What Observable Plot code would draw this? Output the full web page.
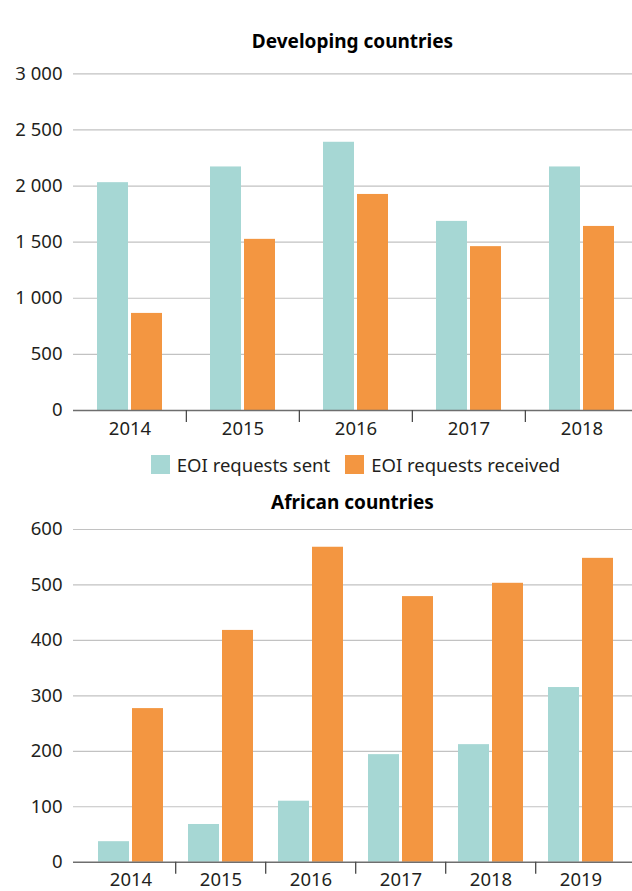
<!DOCTYPE html>
<html>
<head>
<meta charset="utf-8">
<script src="https://cdn.jsdelivr.net/npm/d3@7"></script>
<script src="https://cdn.jsdelivr.net/npm/@observablehq/plot@0.6"></script>
<style>
  body { margin: 0; background: #fff; }
  #wrap { position: relative; width: 632px; height: 891px; overflow: hidden; font-family: "Noto Sans", sans-serif; color: #231f20; background: #fff; }
  .title { position: absolute; left: 73px; width: 559px; text-align: center; font-weight: 700; font-size: 19px; line-height: 19px; color: #000; }
  .chart { position: absolute; left: 0; }
  #legend { position: absolute; left: 76px; width: 559px; top: 455px; display: flex; justify-content: center; align-items: center; font-size: 18.5px; line-height: 19px; }
  .item { display: flex; align-items: center; }
  .item + .item { margin-left: 15px; }
  .sw { width: 19px; height: 19px; display: inline-block; margin-right: 7px; }
</style>
</head>
<body>
<div id="wrap">
  <div class="title" id="t1" style="top:32px"></div>
  <div class="chart" id="c1" style="top:60px"></div>
  <div id="legend"></div>
  <div class="title" id="t2" style="top:493px"></div>
  <div class="chart" id="c2" style="top:515px"></div>
</div>
<script>
// ---- data ----
const seriesNames = ["EOI requests sent", "EOI requests received"];
const seriesColors = ["#a6d7d4", "#f39641"];

const devTitle = "Developing countries";
const devYears = ["2014", "2015", "2016", "2017", "2018"];
const devSent = [2030, 2170, 2390, 1685, 2170];
const devReceived = [865, 1525, 1925, 1460, 1640];
const devTicks = [0, 500, 1000, 1500, 2000, 2500, 3000];

const afrTitle = "African countries";
const afrYears = ["2014", "2015", "2016", "2017", "2018", "2019"];
const afrSent = [37, 68, 110, 194, 212, 315];
const afrReceived = [277, 418, 568, 479, 503, 548];
const afrTicks = [0, 100, 200, 300, 400, 500, 600];

const fmt = d => d3.format(",")(d).replace(/,/g, "\u00a0");

function makeChart({years, sent, received, ticks, height, marginTop, marginBottom, paddingInner, paddingOuter}) {
  const rows = years.flatMap((y, i) => [
    {year: y, series: seriesNames[0], value: sent[i]},
    {year: y, series: seriesNames[1], value: received[i]}
  ]);
  const width = 632, marginLeft = 73, marginRight = 0;
  const n = years.length;
  const step = (width - marginLeft - marginRight) / (n - paddingInner + 2 * paddingOuter);
  const bandwidth = step * (1 - paddingInner);
  const barGap = 3;
  const inset = (bandwidth + barGap) / 2;
  return Plot.plot({
    width, height, marginTop, marginBottom, marginLeft, marginRight,
    style: {fontFamily: '"Noto Sans", sans-serif', fontSize: "18.5px", color: "#231f20", background: "#fff", overflow: "visible"},
    x: {domain: years, paddingInner, paddingOuter, align: 0.56, label: null},
    y: {domain: [ticks[0], ticks[ticks.length - 1]], label: null},
    color: {domain: seriesNames, range: seriesColors},
    marks: [
      Plot.ruleY(ticks.slice(1), {stroke: "#c2c2c2", strokeWidth: 1.2}),
      Plot.barY(rows.filter(d => d.series === seriesNames[0]), {x: "year", y: "value", fill: "series", insetRight: inset}),
      Plot.barY(rows.filter(d => d.series === seriesNames[1]), {x: "year", y: "value", fill: "series", insetLeft: inset}),
      Plot.ruleY([0], {stroke: "#6e6e6e", strokeWidth: 1.5}),
      Plot.axisY(ticks, {tickSize: 0, tickPadding: 11, tickFormat: fmt, label: null, fontSize: 18.5, fill: "#231f20"}),
      Plot.axisX({tickSize: 0, tickPadding: 11, label: null, fontSize: 18.5, fill: "#231f20"}),
      Plot.axisX(years.slice(1), {tickSize: 12, tickPadding: 0, tickFormat: () => "", label: null, dx: -step / 2, stroke: "#4a4a4a", strokeWidth: 1.3})
    ]
  });
}

document.getElementById("t1").textContent = devTitle;
document.getElementById("t2").textContent = afrTitle;

document.getElementById("c1").appendChild(makeChart({
  years: devYears, sent: devSent, received: devReceived, ticks: devTicks,
  height: 380, marginTop: 13.3, marginBottom: 30, paddingInner: 0.426, paddingOuter: 0.181
}));

document.getElementById("c2").appendChild(makeChart({
  years: afrYears, sent: afrSent, received: afrReceived, ticks: afrTicks,
  height: 376, marginTop: 14, marginBottom: 29.3, paddingInner: 0.2826, paddingOuter: 0.226
}));

const legend = document.getElementById("legend");
seriesNames.forEach((name, i) => {
  const item = document.createElement("div");
  item.className = "item";
  const sw = document.createElement("span");
  sw.className = "sw";
  sw.style.background = seriesColors[i];
  const label = document.createElement("span");
  label.textContent = name;
  item.appendChild(sw);
  item.appendChild(label);
  legend.appendChild(item);
});
</script>
</body>
</html>
